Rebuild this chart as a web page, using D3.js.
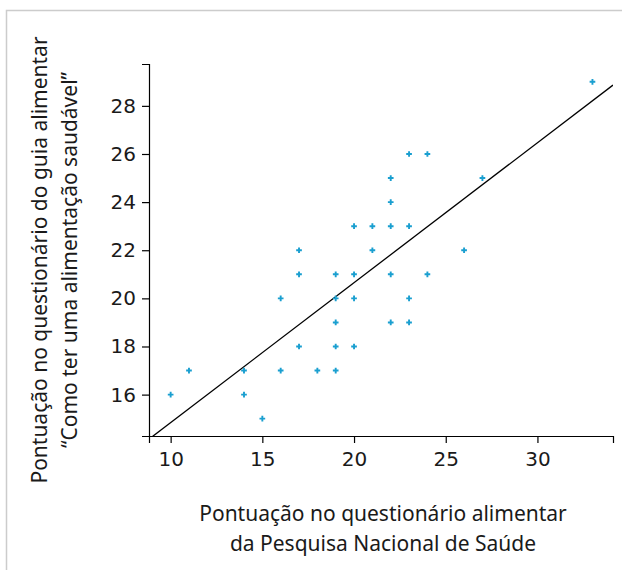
<!DOCTYPE html>
<html>
<head>
<meta charset="utf-8">
<script src="https://cdn.jsdelivr.net/npm/d3@7"></script>
<style>
  body { margin: 0; background: #fff; }
  svg text { fill: #1a1a1a; }
  .tick text { font-family: "DejaVu Sans", sans-serif; font-size: 20px; }
  .title { font-family: "Noto Sans", sans-serif; font-size: 21px; }
</style>
</head>
<body>
<div id="chart"></div>
<script>
// scores: PNS questionnaire (x) vs guide questionnaire (y)
var pnsScore   = [33, 23, 24, 22, 27, 22, 20, 21, 22, 23, 17, 21, 26,
                  17, 19, 20, 22, 24, 16, 19, 20, 23, 19, 22, 23,
                  17, 19, 20, 11, 14, 16, 18, 19, 10, 14, 15];
var guiaScore  = [29, 26, 26, 25, 25, 24, 23, 23, 23, 23, 22, 22, 22,
                  21, 21, 21, 21, 21, 20, 20, 20, 20, 19, 19, 19,
                  18, 18, 18, 17, 17, 17, 17, 17, 16, 16, 15];

var xTicks = [10, 15, 20, 25, 30];
var yTicks = [16, 18, 20, 22, 24, 26, 28];

// fitted line
var fitIntercept = 9.02;
var fitSlope = 0.5816;

var xTitle = ["Pontuação no questionário alimentar", "da Pesquisa Nacional de Saúde"];
var yTitle = ["Pontuação no questionário do guia alimentar", "“Como ter uma alimentação saudável”"];

var W = 622, H = 570;
var m = {left: 149, right: 613, top: 64, bottom: 436};

var svg = d3.select("#chart").append("svg")
            .attr("width", W)
            .attr("height", H);

// frame
svg.append("rect")
   .attr("x", 6.5).attr("y", 10.5)
   .attr("width", 700).attr("height", 700)
   .attr("fill", "none")
   .attr("stroke", "#cccccc")
   .attr("stroke-width", 1.5);

var x = d3.scaleLinear().domain([8.82, 34.12]).range([m.left, m.right]);
var y = d3.scaleLinear().domain([14.28, 29.74]).range([m.bottom, m.top]);

svg.append("g")
   .attr("transform", `translate(0,${m.bottom})`)
   .call(d3.axisBottom(x).tickValues(xTicks).tickSize(7).tickPadding(9));

svg.append("g")
   .attr("transform", `translate(${m.left},0)`)
   .call(d3.axisLeft(y).tickValues(yTicks).tickSize(7).tickPadding(6));

svg.selectAll(".domain").attr("stroke", "#000").attr("stroke-width", 1.2);
svg.selectAll(".tick line").attr("stroke", "#000").attr("stroke-width", 1.2);

// clip for the fitted line
svg.append("clipPath").attr("id", "plotclip")
   .append("rect")
   .attr("x", m.left).attr("y", m.top)
   .attr("width", m.right - m.left).attr("height", m.bottom - m.top);

var xd = x.domain();
svg.append("line")
   .attr("clip-path", "url(#plotclip)")
   .attr("x1", x(xd[0])).attr("y1", y(fitIntercept + fitSlope * xd[0]))
   .attr("x2", x(xd[1])).attr("y2", y(fitIntercept + fitSlope * xd[1]))
   .attr("stroke", "#000")
   .attr("stroke-width", 1.3);

var pts = pnsScore.map((d, i) => ({x: d, y: guiaScore[i]}));

svg.selectAll("path.pt")
   .data(pts)
   .enter()
   .append("path")
   .attr("class", "pt")
   .attr("d", d3.symbol().type(d3.symbolCross).size(18))
   .attr("transform", d => `translate(${x(d.x)},${y(d.y)})`)
   .attr("fill", "#1a9fd0");

// axis titles
svg.selectAll("text.xt")
   .data(xTitle)
   .enter()
   .append("text")
   .attr("class", "title xt")
   .attr("x", 383)
   .attr("y", (d, i) => 521 + i * 30)
   .attr("text-anchor", "middle")
   .text(d => d);

svg.selectAll("text.yt")
   .data(yTitle)
   .enter()
   .append("text")
   .attr("class", "title yt")
   .attr("text-anchor", "middle")
   .attr("transform", (d, i) => `translate(${47 + i * 30},260) rotate(-90)`)
   .text(d => d);
</script>
</body>
</html>
